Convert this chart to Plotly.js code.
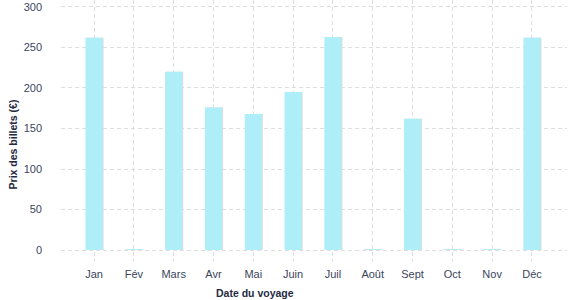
<!DOCTYPE html>
<html><head><meta charset="utf-8">
<script src="https://cdn.plot.ly/plotly-3.0.1.min.js"></script>
<style>body{margin:0;background:#fff}#c{width:577px;height:300px}</style>
</head><body><div id="c"></div>
<script>
const months = ["Jan","Fév","Mars","Avr","Mai","Juin","Juil","Août","Sept","Oct","Nov","Déc"];
const prices = [262, 1, 220, 176, 168, 195, 263, 1, 162, 1, 1, 262];
const yTicks = [0, 50, 100, 150, 200, 250, 300];
const xTitle = "Date du voyage";
const yTitle = "Prix des billets (€)";

const font = {family: "Liberation Sans, Arial, sans-serif", size: 11, color: "#3b4560"};
const shadow = {x: months, y: prices, type: "bar", width: 0.43, offset: -0.19,
  marker: {color: "#dcdcdc"}, hoverinfo: "skip", showlegend: false};
const bars = {x: months, y: prices, type: "bar", width: 0.43, offset: -0.215,
  marker: {color: "#adeef8"}, showlegend: false};

Plotly.newPlot("c", [shadow, bars], {
  width: 577, height: 300,
  margin: {l: 61, r: 10, t: 0, b: 38},
  paper_bgcolor: "#fff", plot_bgcolor: "#fff",
  font: font,
  barmode: "overlay",
  xaxis: {type: "category", range: [-0.83, 11.88], showgrid: true, gridcolor: "#dedede",
    griddash: "4px,3px", gridwidth: 1, zeroline: false, showline: false, ticks: "",
    ticklabelstandoff: 4, tickfont: font, fixedrange: true},
  yaxis: {range: [-14.8, 308.6], tickvals: yTicks, showgrid: true, gridcolor: "#dedede",
    griddash: "4px,3px", zeroline: false, showline: false, ticks: "", ticklabelstandoff: 18,
    tickfont: font, fixedrange: true},
  annotations: [
    {text: "<b>" + xTitle + "</b>", xref: "paper", yref: "paper", x: (255-61)/506, y: -31/262,
     xanchor: "center", yanchor: "middle", showarrow: false,
     font: {family: "Liberation Sans, Arial, sans-serif", size: 10.5, color: "#1f2a44"}},
    {text: "<b>" + yTitle + "</b>", xref: "paper", yref: "paper", x: -0.094, y: 1-(144/262),
     xanchor: "center", yanchor: "middle", textangle: -90, showarrow: false,
     font: {family: "Liberation Sans, Arial, sans-serif", size: 10.5, color: "#1f2a44"}}
  ]
}, {displayModeBar: false, staticPlot: true});
</script></body></html>
